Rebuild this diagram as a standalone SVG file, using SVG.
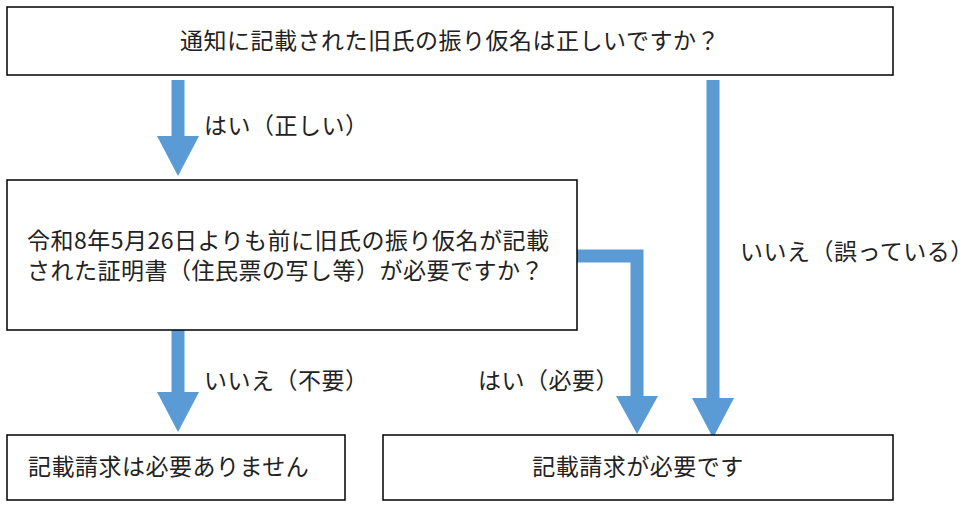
<svg xmlns="http://www.w3.org/2000/svg" width="970" height="510" viewBox="0 0 970 510">
<style>
.box{fill:#fff;stroke:#000;stroke-width:1.5}
text{font-family:"Noto Sans CJK JP",sans-serif;font-size:23px;letter-spacing:0.5px;fill:#222}
.sh{stroke:#5b9bd5;stroke-width:13;fill:none}
.hd{fill:#5b9bd5}
</style>
<rect width="970" height="510" fill="#fff"/>
<g id="connectors">
<line class="sh" x1="178" y1="80" x2="178" y2="138"/><polygon class="hd" points="157,136 199,136 178,176"/>
<line class="sh" x1="713" y1="80" x2="713" y2="400"/><polygon class="hd" points="692,398 734,398 713,438"/>
<line class="sh" x1="178" y1="330" x2="178" y2="394"/><polygon class="hd" points="157,392 199,392 178,432"/>
<polyline class="sh" points="577,256 637,256 637,398"/><polygon class="hd" points="616,396 658,396 637,434"/>
<text x="204" y="134">はい（正しい）</text>
<text x="740" y="260">いいえ（誤っている）</text>
<text x="204" y="389">いいえ（不要）</text>
<text x="478" y="389">はい（必要）</text>
</g>
<g id="n1"><rect class="box" x="7" y="7" width="886" height="68"/><text x="450" y="49" text-anchor="middle">通知に記載された旧氏の振り仮名は正しいですか？</text></g>
<g id="n2"><rect class="box" x="7" y="180" width="570" height="150"/><text x="27" y="249">令和8年5月26日よりも前に旧氏の振り仮名が記載</text><text x="27" y="279">された証明書（住民票の写し等）が必要ですか？</text></g>
<g id="n3"><rect class="box" x="7" y="435" width="338" height="65"/><text x="28" y="475">記載請求は必要ありません</text></g>
<g id="n4"><rect class="box" x="383" y="435" width="510" height="65"/><text x="638" y="475" text-anchor="middle">記載請求が必要です</text></g>
</svg>
